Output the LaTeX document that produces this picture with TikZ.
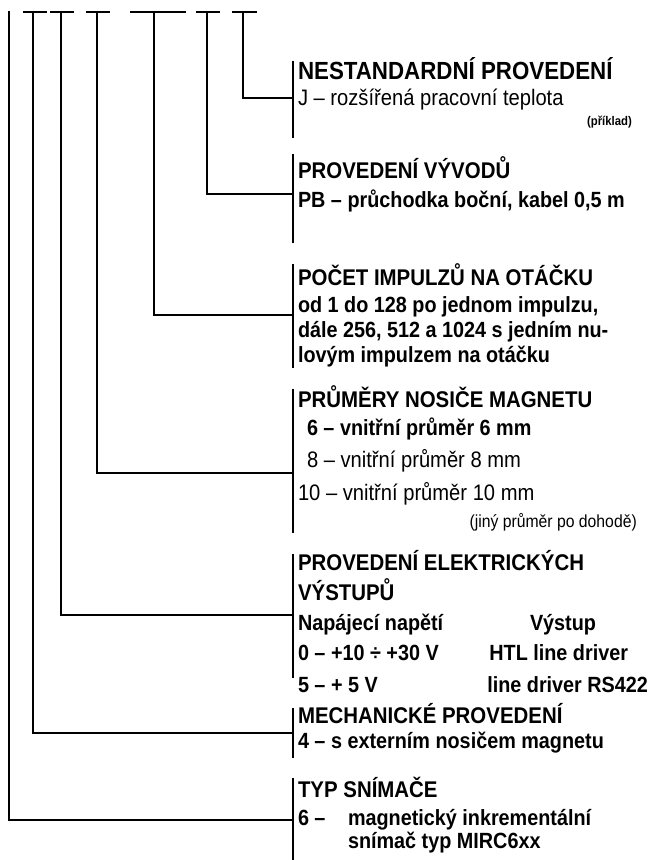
\documentclass[tikz,border=0pt]{standalone}
\usepackage{fontspec}
\setmainfont{Liberation Sans}[FakeStretch=0.9]
\begin{document}
\begin{tikzpicture}[x=1pt,y=-1pt,
  conn/.style={line width=1.6pt, line cap=rect},
  txt/.style={anchor=base west, inner sep=0pt, outer sep=0pt},
  head/.style={txt, font=\fontsize{22.7}{26}\selectfont\bfseries},
  bighead/.style={txt, font=\fontsize{24.8}{28}\selectfont\bfseries},
  bodyb/.style={txt, font=\fontsize{22}{26}\selectfont\bfseries},
  bodyr/.style={txt, font=\fontsize{22.4}{26}\selectfont},
  smallb/.style={anchor=base east, inner sep=0pt, font=\fontsize{12.6}{14}\selectfont\bfseries},
  smallr/.style={anchor=base east, inner sep=0pt, font=\fontsize{17.5}{20}\selectfont}]
\useasboundingbox (0,0) rectangle (651,860);

% top T-bars (left, right) and stems
\coordinate (t1) at (9,12);
\coordinate (b2l) at (24,12);  \coordinate (b2r) at (46,12);  \coordinate (t2) at (33,12);
\coordinate (b3l) at (51,12);  \coordinate (b3r) at (73,12);  \coordinate (t3) at (61,12);
\coordinate (b4l) at (87,12);  \coordinate (b4r) at (109,12); \coordinate (t4) at (97,12);
\coordinate (b5l) at (131,12); \coordinate (b5r) at (185,12); \coordinate (t5) at (154,12);
\coordinate (b6l) at (197,12); \coordinate (b6r) at (219,12); \coordinate (t6) at (207,12);
\coordinate (b7l) at (233,12); \coordinate (b7r) at (256,12); \coordinate (t7) at (243,12);

% right-hand section bars: top, join point, bottom
\coordinate (s1t) at (293,62);  \coordinate (s1h) at (293,98);  \coordinate (s1b) at (293,137);
\coordinate (s2t) at (293,155); \coordinate (s2h) at (293,194); \coordinate (s2b) at (293,242);
\coordinate (s3t) at (293,265); \coordinate (s3h) at (293,315); \coordinate (s3b) at (293,367);
\coordinate (s4t) at (293,390); \coordinate (s4h) at (293,473); \coordinate (s4b) at (293,532);
\coordinate (s5t) at (293,555); \coordinate (s5h) at (293,615); \coordinate (s5b) at (293,677);
\coordinate (s6t) at (293,709); \coordinate (s6h) at (293,733); \coordinate (s6b) at (293,757);
\coordinate (s7t) at (293,779); \coordinate (s7h) at (293,820); \coordinate (s7b) at (293,860);

\foreach \i in {2,...,7} { \draw[conn] (b\i l) -- (b\i r); }
\foreach \i in {1,...,7} { \draw[conn] (s\i t) -- (s\i b); }
\draw[conn] (t7) |- (s1h);
\draw[conn] (t6) |- (s2h);
\draw[conn] (t5) |- (s3h);
\draw[conn] (t4) |- (s4h);
\draw[conn] (t3) |- (s5h);
\draw[conn] (t2) |- (s6h);
\draw[conn] (t1) |- (s7h);

% texts
\node[bighead](n1a) at (298,79)  {NESTANDARDNÍ PROVEDENÍ};
\node[bodyr] (n1b) at (298,105) {J – rozšířená pracovní teplota};
\node[smallb](n1c) at (632,125) {(příklad)};

\node[head]  (n2a) at (298,178) {PROVEDENÍ VÝVODŮ};
\node[bodyb] (n2b) at (298,207) {PB – průchodka boční, kabel 0,5 m};

\node[head]  (n3a) at (298,285) {POČET IMPULZŮ NA OTÁČKU};
\node[bodyb] (n3b) at (298,312) {od 1 do 128 po jednom impulzu,};
\node[bodyb] (n3c) at (298,337) {dále 256, 512 a 1024 s jedním nu-};
\node[bodyb] (n3d) at (298,362) {lovým impulzem na otáčku};

\node[head]  (n4a) at (298,407) {PRŮMĚRY NOSIČE MAGNETU};
\node[bodyb] (n4b) at (307,435) {6 – vnitřní průměr 6 mm};
\node[bodyr] (n4c) at (307,467) {8 – vnitřní průměr 8 mm};
\node[bodyr] (n4d) at (298,500) {10 – vnitřní průměr 10 mm};
\node[smallr](n4e) at (637,527) {(jiný průměr po dohodě)};

\node[head]  (n5a) at (298,570) {PROVEDENÍ ELEKTRICKÝCH};
\node[head]  (n5b) at (298,600) {VÝSTUPŮ};
\node[bodyb] (n5c) at (298,630) {Napájecí napětí};
\node[bodyb] (n5d) at (530,630) {Výstup};
\node[bodyb] (n5e) at (298,660) {0 – +10 ÷ +30 V};
\node[bodyb, anchor=base east] (n5f) at (628,660) {HTL line driver};
\node[bodyb] (n5g) at (298,692) {5 – + 5 V};
\node[bodyb, anchor=base east] (n5h) at (648,692) {line driver RS422};

\node[head]  (n6a) at (298,723) {MECHANICKÉ PROVEDENÍ};
\node[bodyb] (n6b) at (298,748) {4 – s externím nosičem magnetu};

\node[head]  (n7a) at (298,797) {TYP SNÍMAČE};
\node[bodyb] (n7b) at (298,825) {6 –};
\node[bodyb] (n7c) at (348,825) {magnetický inkrementální};
\node[bodyb] (n7d) at (348,848) {snímač typ MIRC6xx};
\end{tikzpicture}
\end{document}
